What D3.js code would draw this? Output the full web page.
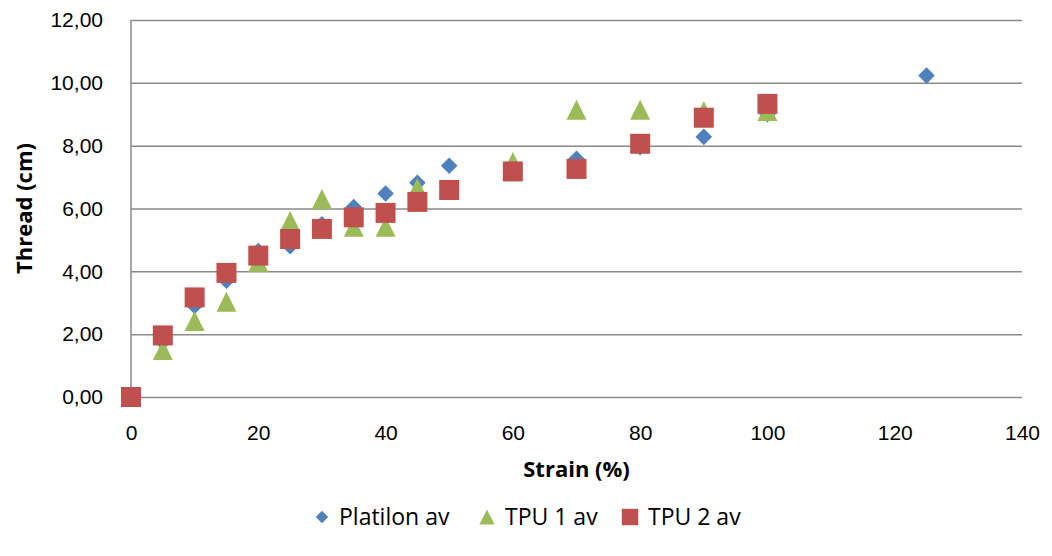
<!DOCTYPE html>
<html>
<head>
<meta charset="utf-8">
<script src="https://cdn.jsdelivr.net/npm/d3@7"></script>
<style>
  html, body { margin: 0; padding: 0; background: #fff; }
  svg { display: block; font-family: "Open Sans", "Noto Sans", "Liberation Sans", sans-serif; }
</style>
</head>
<body>
<svg id="chart" width="1052" height="556"></svg>
<script>
// Strain (%) vs thread length (cm) for three materials
const platilonStrain = [0, 5, 10, 15, 20, 25, 30, 35, 40, 45, 50, 60, 70, 80, 90, 100, 125];
const platilonThread = [0, 1.75, 2.9, 3.7, 4.65, 4.8, 5.5, 6.05, 6.48, 6.82, 7.36, 7.2, 7.58, 7.95, 8.28, 9.0, 10.23];

const tpu1Strain = [0, 5, 10, 15, 20, 25, 30, 35, 40, 45, 50, 60, 70, 80, 90, 100];
const tpu1Thread = [0, 1.5, 2.42, 3.03, 4.3, 5.6, 6.3, 5.42, 5.42, 6.65, 6.6, 7.48, 9.14, 9.14, 9.1, 9.1];

const tpu2Strain = [0, 5, 10, 15, 20, 25, 30, 35, 40, 45, 50, 60, 70, 80, 90, 100];
const tpu2Thread = [0, 1.96, 3.17, 3.95, 4.5, 5.03, 5.35, 5.72, 5.86, 6.21, 6.59, 7.18, 7.26, 8.06, 8.89, 9.33];

const xTicks = [0, 20, 40, 60, 80, 100, 120, 140];
const yTicks = [0, 2, 4, 6, 8, 10, 12];

const seriesNames = ["Platilon av", "TPU 1 av", "TPU 2 av"];
const seriesColors = ["#4F81BD", "#9BBB59", "#C0504D"];

const svg = d3.select("#chart");
const plot = { left: 131, right: 1022, top: 20, bottom: 397 };
const tickFont = 21;
const titleFont = 22;
const legendFont = 23;

const x = d3.scaleLinear().domain([0, 140]).range([plot.left, plot.right]);
const y = d3.scaleLinear().domain([0, 12]).range([plot.bottom, plot.top]);

const fmt = v => d3.format(".2f")(v).replace(".", ",");

// horizontal gridlines and y tick labels
const yAxis = d3.axisLeft(y).tickValues(yTicks).tickFormat(fmt)
  .tickSize(-(plot.right - plot.left)).tickPadding(28);
const gy = svg.append("g").attr("transform", `translate(${plot.left},0)`).call(yAxis);
gy.select(".domain").remove();
gy.selectAll(".tick line").attr("stroke", "#8a8a8a").attr("stroke-width", 1.5);
gy.selectAll(".tick text").attr("font-size", tickFont).attr("fill", "#000");

// vertical axis line
svg.append("line")
  .attr("x1", plot.left).attr("x2", plot.left)
  .attr("y1", plot.top).attr("y2", plot.bottom)
  .attr("stroke", "#8a8a8a").attr("stroke-width", 1.5);

// x tick labels
const xAxis = d3.axisBottom(x).tickValues(xTicks).tickFormat(d3.format("d"))
  .tickSize(0).tickPadding(28);
const gx = svg.append("g").attr("transform", `translate(0,${plot.bottom})`).call(xAxis);
gx.select(".domain").remove();
gx.selectAll(".tick text").attr("font-size", tickFont).attr("fill", "#000");

// axis titles
svg.append("text")
  .attr("x", x(70)).attr("y", 477)
  .attr("text-anchor", "middle").attr("font-size", titleFont).attr("font-weight", "bold")
  .text("Strain (%)");
svg.append("text")
  .attr("transform", `translate(32,${y(6)}) rotate(-90)`)
  .attr("text-anchor", "middle").attr("font-size", titleFont).attr("font-weight", "bold")
  .text("Thread (cm)");

// triangle with equal width and height, centred on its bounding box
const boxTriangle = {
  draw(ctx, size) {
    const h = Math.sqrt(size) / 2;
    ctx.moveTo(0, -h);
    ctx.lineTo(h, h);
    ctx.lineTo(-h, h);
    ctx.closePath();
  }
};

// marker shapes: size is the bounding-box area for the triangle
const shapes = [
  d3.symbol().type(d3.symbolDiamond2).size(175),
  d3.symbol().type(boxTriangle).size(400),
  d3.symbol().type(d3.symbolSquare).size(400)
];

const series = [
  { xs: platilonStrain, ys: platilonThread },
  { xs: tpu1Strain, ys: tpu1Thread },
  { xs: tpu2Strain, ys: tpu2Thread }
];

series.forEach((s, i) => {
  const pts = s.xs.map((v, j) => [v, s.ys[j]]);
  svg.append("g").selectAll("path").data(pts).join("path")
    .attr("d", shapes[i])
    .attr("transform", d => `translate(${x(d[0])},${y(d[1])})`)
    .attr("fill", seriesColors[i]);
});

// legend
const legendItems = [
  { sx: 322, tx: 339 },
  { sx: 487, tx: 505 },
  { sx: 630, tx: 648 }
];
const legendShapes = [
  d3.symbol().type(d3.symbolDiamond2).size(100),
  d3.symbol().type(boxTriangle).size(230),
  d3.symbol().type(d3.symbolSquare).size(270)
];
const lg = svg.append("g");
seriesNames.forEach((name, i) => {
  lg.append("path")
    .attr("d", legendShapes[i])
    .attr("transform", `translate(${legendItems[i].sx},517)`)
    .attr("fill", seriesColors[i]);
  lg.append("text")
    .attr("x", legendItems[i].tx).attr("y", 525)
    .attr("font-size", legendFont).attr("fill", "#000")
    .text(name);
});
</script>
</body>
</html>
